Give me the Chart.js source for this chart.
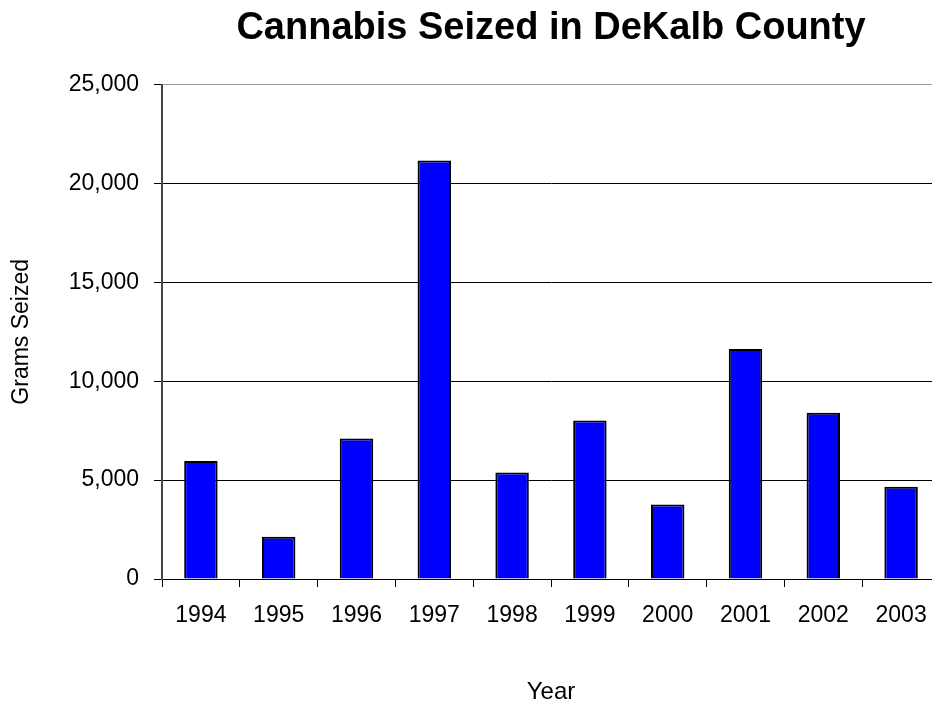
<!DOCTYPE html>
<html>
<head>
<meta charset="utf-8">
<title>Cannabis Seized in DeKalb County</title>
<script src="https://cdn.jsdelivr.net/npm/chart.js@4/dist/chart.umd.min.js"></script>
<style>
  html, body { margin: 0; padding: 0; background: #fff; overflow: hidden; }
  #seizedChart { display: block; }
</style>
</head>
<body>
<canvas id="seizedChart" width="945" height="707"></canvas>
<script>
// Grams of cannabis seized per year
var years = ['1994', '1995', '1996', '1997', '1998', '1999', '2000', '2001', '2002', '2003'];
var gramsSeized = [5970, 2140, 7100, 21160, 5380, 8020, 3770, 11630, 8410, 4670];
var yTicks = [0, 5000, 10000, 15000, 20000, 25000];

var FONT = "'Liberation Sans', Arial, sans-serif";

var ctx = document.getElementById('seizedChart').getContext('2d');

var chart = new Chart(ctx, {
    type: 'bar',
    data: {
        labels: years,
        datasets: [{
            label: 'Grams Seized',
            data: gramsSeized,
            backgroundColor: '#0000ff',
            borderColor: '#000000',
            borderWidth: { top: 2, left: 2, right: 2, bottom: 0 },
            borderSkipped: false,
            barPercentage: 0.43,
            categoryPercentage: 1.0
        }]
    },
    options: {
        responsive: false,
        animation: false,
        layout: {
            padding: { left: 0, right: 5, top: 0, bottom: 0 }
        },
        plugins: {
            legend: { display: false },
            tooltip: { enabled: false },
            title: {
                display: true,
                text: 'Cannabis Seized in DeKalb County',
                color: '#000',
                fullSize: false,
                font: { family: FONT, size: 38, weight: 'bold' },
                padding: { top: 6, bottom: 33 }
            }
        },
        scales: {
            x: {
                grid: {
                    offset: true,
                    drawOnChartArea: false,
                    tickLength: 8,
                    color: '#000'
                },
                border: { color: '#000', width: 1 },
                ticks: {
                    color: '#000',
                    padding: 15,
                    maxRotation: 0,
                    font: { family: FONT, size: 23 }
                },
                title: {
                    display: true,
                    text: 'Year',
                    color: '#000',
                    font: { family: FONT, size: 24 },
                    padding: { top: 0, bottom: 0 }
                },
                afterFit: function (scale) { scale.height = 128; }
            },
            y: {
                min: 0,
                max: 25000,
                afterBuildTicks: function (scale) {
                    scale.ticks = yTicks.map(function (v) { return { value: v }; });
                },
                grid: {
                    tickLength: 8,
                    color: function (c) {
                        return c.tick && c.tick.value === 25000 ? '#999' : '#000';
                    },
                    tickColor: '#000',
                    lineWidth: 1
                },
                border: { color: '#444', width: 2 },
                ticks: {
                    color: '#000',
                    padding: 15,
                    font: { family: FONT, size: 23 },
                    callback: function (v) { return v.toLocaleString('en-US'); }
                },
                title: {
                    display: true,
                    text: 'Grams Seized',
                    color: '#000',
                    font: { family: FONT, size: 23 },
                    padding: { top: 8, bottom: 0 }
                },
                afterFit: function (scale) { scale.width = 162; }
            }
        }
    }
});
</script>
</body>
</html>
